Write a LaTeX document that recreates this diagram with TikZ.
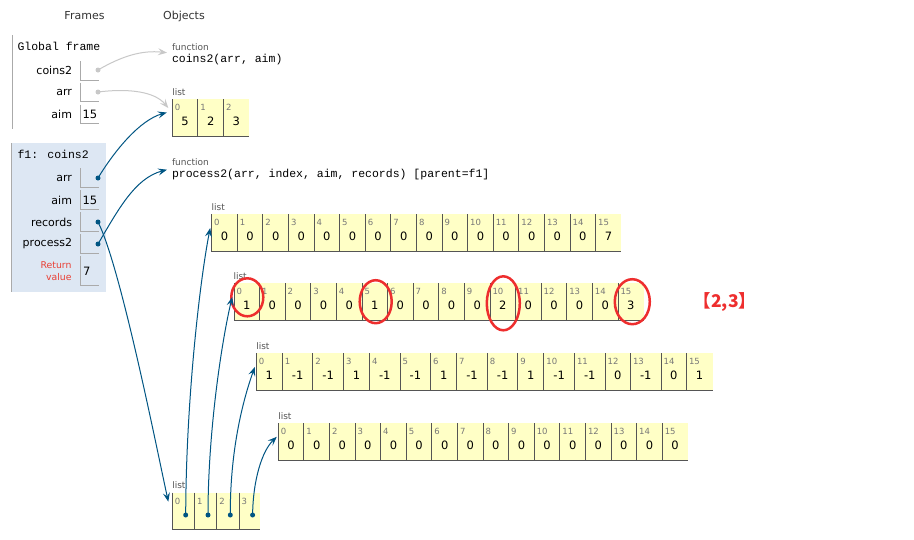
\documentclass[tikz,border=0pt]{standalone}
\usepackage{fontspec}
\setmainfont{DejaVu Sans}
\newfontfamily\monof{Liberation Mono}
\newfontfamily\cjkf{Noto Sans CJK SC}
\usetikzlibrary{arrows.meta,shapes.geometric}
\definecolor{celly}{HTML}{FFFFC6}
\definecolor{celll}{HTML}{555555}
\definecolor{frameb}{HTML}{AAAAAA}
\definecolor{ptblue}{HTML}{005583}
\definecolor{ptgray}{HTML}{C8C8C8}
\definecolor{retred}{HTML}{E93F34}
\definecolor{fonebg}{HTML}{DDE7F3}
\definecolor{markred}{HTML}{EE2E2E}
\definecolor{idxgray}{HTML}{777777}
\definecolor{typegray}{HTML}{555555}
\definecolor{headgray}{HTML}{333333}

% #1 name, #2 left x, #3 top y, #4 value/width list
\newcommand\drawlist[4]{%
  \xdef\curx{#2}%
  \foreach \v/\w [count=\i from 0] in {#4} {
    \node[cellnode, minimum width=\w pt] (#1-\i) at (\curx,#3) {};
    \draw[celll, line width=1pt] (#1-\i.north west) -- (#1-\i.south west) -- (#1-\i.south east);
    \node[idx] (#1-i\i) at ([xshift=2.5pt,yshift=-8.5pt]#1-\i.north west) {\i};
    \node[val] (#1-v\i) at ([yshift=-22.5pt]#1-\i.north) {\v};
    \pgfmathsetmacro\nx{\curx+\w}\xdef\curx{\nx}
  }%
}
% #1 name, #2 top y
\newcommand\valbox[2]{%
  \node[vbox] (#1) at (80.5,#2) {};
  \draw[frameb, line width=1pt] (#1.north west) -- (#1.south west) -- (#1.south east);
}

\begin{document}
\begin{tikzpicture}[x=1pt,y=-1pt,
  every node/.style={inner sep=0pt, outer sep=0pt},
  hdr/.style={font=\fontsize{11}{13}\selectfont, text=headgray},
  varlbl/.style={font=\fontsize{11}{13}\selectfont, anchor=east},
  retlbl/.style={font=\fontsize{9.3}{12}\selectfont, text=retred, align=right, anchor=east},
  mono/.style={font=\monof\fontsize{11.5}{13}\selectfont, anchor=west},
  typelbl/.style={font=\fontsize{9}{10}\selectfont, text=typegray, anchor=west},
  idx/.style={font=\fontsize{8.5}{10}\selectfont, text=idxgray, anchor=west},
  val/.style={font=\fontsize{11.5}{13}\selectfont},
  fval/.style={font=\fontsize{11.5}{13}\selectfont, anchor=west},
  cellnode/.style={fill=celly, minimum height=37pt, anchor=north west},
  vbox/.style={minimum width=18.5pt, minimum height=19pt, anchor=north west},
  bdot/.style={circle, fill=ptblue, minimum size=5pt},
  gdot/.style={circle, fill=ptgray, minimum size=5pt},
  ptarrow/.style={draw=ptblue, line width=1pt, -{Stealth[length=9pt,width=7pt,inset=3.5pt]}},
  gparrow/.style={draw=ptgray, line width=1pt, -{Stealth[length=9pt,width=7pt,inset=3.5pt]}},
  redmark/.style={draw=markred, line width=2.5pt, ellipse},
]
\useasboundingbox (0,0) rectangle (914,539);
\fill[white] (0,0) rectangle (914,539);

% headers
\node[hdr] (hFrames) at (84.5,16) {Frames};
\node[hdr] (hObjects) at (184,16) {Objects};

% ---------------- Global frame
\draw[frameb, line width=1pt] (12,35) -- (12,129);
\node[mono] (gtitle) at (17.5,46.5) {Global frame};
\node[varlbl] (gCoins) at (72,70) {coins2};
\node[varlbl] (gArr) at (72,92) {arr};
\node[varlbl] (gAim) at (72,114.5) {aim};
\valbox{gbCoins}{61}
\valbox{gbArr}{82.5}
\valbox{gbAim}{104.5}
\node[fval] (gAimV) at (82.5,114.5) {15};
\node[gdot] (gdCoins) at (98,70) {};
\node[gdot] (gdArr) at (98,92) {};

% ---------------- f1 frame
\fill[fonebg] (11,143.3) rectangle (106,291.7);
\draw[frameb, line width=1pt] (11.5,143.3) -- (11.5,291.7);
\node[mono] (ftitle) at (17.5,154.5) {f1: coins2};
\node[varlbl] (fArr) at (72,178) {arr};
\node[varlbl] (fAim) at (72,200) {aim};
\node[varlbl] (fRec) at (72,222) {records};
\node[varlbl] (fProc) at (72,244) {process2};
\node[retlbl] (fRet) at (71.5,271.5) {Return\\value};
\valbox{fbArr}{168}
\valbox{fbAim}{190}
\valbox{fbRec}{212}
\valbox{fbProc}{234}
\node[vbox, minimum height=29.3pt] (fbRet) at (80.5,255.7) {};
\draw[frameb, line width=1pt] (fbRet.north west) -- (fbRet.south west) -- (fbRet.south east);
\node[fval] (fAimV) at (82.5,200) {15};
\node[fval] (fRetV) at (83,271) {7};
\node[bdot] (fdArr) at (98,178) {};
\node[bdot] (fdRec) at (98,222) {};
\node[bdot] (fdProc) at (98,244) {};

% ---------------- function objects
\node[typelbl] (fn1type) at (172,46.7) {function};
\node[mono] (fn1code) at (172,60) {coins2(arr, aim)};
\node[typelbl] (fn2type) at (172,161.7) {function};
\node[mono] (fn2code) at (172,175) {process2(arr, index, aim, records) [parent=f1]};

% ---------------- lists
\node[typelbl] (L1t) at (172.3,91.7) {list};
\drawlist{L1}{172.3}{99}{5/25.6,2/25.6,3/25.6}

\node[typelbl] (LAt) at (211.7,206.7) {list};
\drawlist{LA}{211.7}{214}{0/25.6,0/25.6,0/25.6,0/25.6,0/25.6,0/25.6,0/25.6,0/25.6,0/25.6,0/25.6,0/25.6,0/25.6,0/25.6,0/25.6,0/25.6,7/25.6}

\node[typelbl] (LBt) at (233.5,276) {list};
\drawlist{LB}{234}{283}{1/25.6,0/25.6,0/25.6,0/25.6,0/25.6,1/25.6,0/25.6,0/25.6,0/25.6,0/25.6,2/25.6,0/25.6,0/25.6,0/25.6,0/25.6,3/25.6}

\node[typelbl] (LCt) at (256.3,346) {list};
\drawlist{LC}{256.3}{353}{1/26,-1/30.6,-1/30.6,1/26,-1/30.6,-1/30.6,1/26,-1/30.6,-1/30.6,1/26,-1/30.6,-1/30.6,0/25.4,-1/30.6,0/25.4,1/26}

\node[typelbl] (LDt) at (278.3,416) {list};
\drawlist{LD}{278.3}{423.3}{0/25.6,0/25.6,0/25.6,0/25.6,0/25.6,0/25.6,0/25.6,0/25.6,0/25.6,0/25.6,0/25.6,0/25.6,0/25.6,0/25.6,0/25.6,0/25.6}

\node[typelbl] (LEt) at (172.3,485) {list};
\drawlist{LE}{172.3}{492.7}{\phantom{0}/22.3,\phantom{0}/22.3,\phantom{0}/22.3,\phantom{0}/21}
\foreach \k in {0,1,2,3} {
  \node[bdot] (ed\k) at ([xshift=13.4pt,yshift=-22.3pt]LE-\k.north west) {};
}

% ---------------- red marks
\node[redmark, minimum width=32pt, minimum height=38pt] (r0) at (247.3,297.3) {};
\node[redmark, minimum width=32pt, minimum height=43pt] (r5) at (375.7,301.7) {};
\node[redmark, minimum width=33pt, minimum height=54pt] (r10) at (503.3,303.3) {};
\node[redmark, minimum width=35pt, minimum height=45pt] (r15) at (632.3,301.7) {};
\node[font=\cjkf\fontsize{17.5}{19}\selectfont\bfseries, text=markred] (ans) at (725,302) {【2,3】};

% ---------------- connector targets
\coordinate (tFn1) at ([xshift=-5pt,yshift=-6pt]fn1type.west);
\coordinate (tFn2) at ([xshift=-5pt,yshift=-8pt]fn2type.west);
\coordinate (tL1g) at ([xshift=-4pt,yshift=-9pt]L1-0.north west);
\coordinate (tL1b) at ([xshift=-5.5pt,yshift=-13.5pt]L1-0.north west);
\coordinate (tA) at ([xshift=-1.5pt,yshift=-14pt]LA-0.north west);
\coordinate (tB) at ([xshift=-1.8pt,yshift=-14pt]LB-0.north west);
\coordinate (tC) at ([xshift=-1.5pt,yshift=-14pt]LC-0.north west);
\coordinate (tD) at ([xshift=-1.5pt,yshift=-13.5pt]LD-0.north west);
\coordinate (tE) at ([xshift=-4pt,yshift=-9pt]LE-0.north west);

% ---------------- connectors
\draw[gparrow] (gdCoins.center) .. controls (122,56) and (142,50) .. (tFn1);
\draw[gparrow] (gdArr.center) .. controls (130,88) and (155,92) .. (tL1g);
\draw[ptarrow] (fdArr.center) .. controls (115,150) and (140,120) .. (tL1b);
\draw[ptarrow] (fdProc.center) .. controls (118,210) and (135,178) .. (tFn2);
\draw[ptarrow] (fdRec.center) .. controls (120,265) and (155,440) .. (tE);
\draw[ptarrow] (ed0.center) .. controls (186,400) and (200,280) .. (tA);
\draw[ptarrow] (ed1.center) .. controls (208,430) and (222,340) .. (tB);
\draw[ptarrow] (ed2.center) .. controls (230,450) and (243,400) .. (tC);
\draw[ptarrow] (ed3.center) .. controls (253,480) and (262,451) .. (tD);
\end{tikzpicture}
\end{document}
